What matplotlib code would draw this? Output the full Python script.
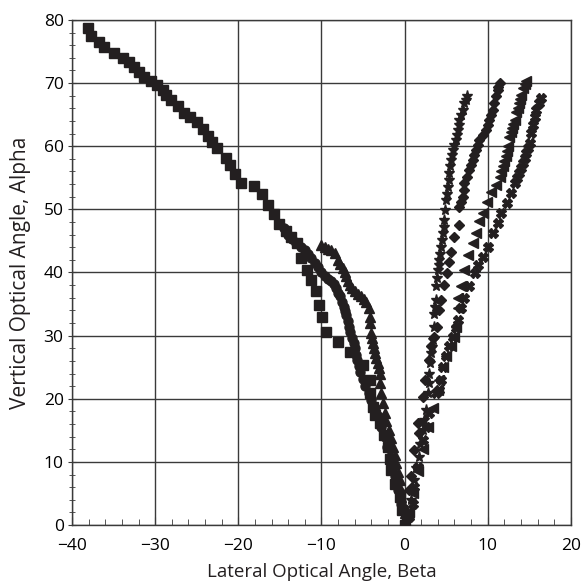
import numpy as np
import matplotlib.pyplot as plt
from matplotlib.ticker import MultipleLocator

plt.rcParams['font.family'] = ['Open Sans', 'DejaVu Sans']

# Squares
sq_x = [-38.1, -37.75, -36.7, -36.1, -34.9, -33.9, -33.1, -32.6, -32.0, -31.3, -30.5, -29.8,
        -29.1, -28.7, -28.1, -27.2, -26.5, -25.8, -25.0, -24.3, -23.6, -23.1, -22.6, -21.5,
        -21.0, -20.4, -19.7, -18.1, -17.2, -16.4, -15.7, -15.1, -14.3, -13.6, -12.9, -12.4,
        -11.7, -11.3, -10.7, -10.3, -9.9, -9.4, -8.0, -6.5, -5.0, -4.2, -4.2, -3.8, -3.5,
        -3.0, -2.5, -2.0, -1.8, -1.6, -1.2, -0.6, -0.3, 0.0]
sq_y = [78.7, 77.5, 76.5, 75.7, 74.7, 73.9, 73.3, 72.5, 71.8, 71.0, 70.3, 69.7,
        68.9, 68.1, 67.4, 66.3, 65.3, 64.6, 63.8, 62.7, 61.6, 60.7, 59.7, 58.2,
        57.1, 55.6, 54.2, 53.7, 52.5, 50.7, 49.2, 47.7, 46.6, 45.7, 44.6, 42.3,
        40.4, 38.8, 37.0, 34.8, 32.9, 30.6, 29.0, 27.4, 25.4, 23.0, 20.9, 18.7, 17.5,
        16.2, 14.3, 12.4, 10.5, 8.7, 6.5, 4.4, 2.4, 0.0]

# Circles
ci_x = [-14.5, -14.0, -13.5, -13.0, -12.5, -12.0, -11.6, -11.2, -10.8, -10.4, -10.0, -9.6,
        -9.2, -8.8, -8.5, -8.2, -8.0, -7.8, -7.5, -7.3, -7.1, -7.0, -6.8, -6.7, -6.5, -6.3,
        -6.1, -6.0, -5.8, -5.7, -5.5, -5.4, -5.0, -4.7, -4.3, -4.0, -3.6, -3.2, -2.8, -2.4,
        -2.1, -1.8, -1.5, -1.2, -1.0, -0.8, -0.6, -0.4, -0.1, 0.2]
ci_y = [47.0, 46.0, 45.3, 44.6, 44.1, 43.6, 43.0, 42.3, 41.5, 40.8, 40.1, 39.4,
        39.0, 38.6, 38.1, 37.5, 36.8, 36.2, 35.4, 34.6, 33.9, 33.3, 32.3, 31.4, 30.5, 29.6,
        28.8, 28.0, 27.0, 26.1, 25.2, 24.3, 23.1, 22.0, 20.9, 19.8, 18.5, 17.2, 15.6, 14.0,
        12.4, 10.8, 9.2, 7.7, 6.6, 5.5, 4.4, 3.4, 2.3, 1.3]

# Triangles (up)
tu_x = [-10.0, -9.6, -9.2, -8.8, -8.4, -8.0, -7.7, -7.4, -7.2, -7.0, -6.8, -6.6, -6.3,
        -6.0, -5.6, -5.2, -4.9, -4.6, -4.3, -4.2, -4.1, -4.0, -3.9, -3.8, -3.7, -3.6,
        -3.4, -3.2, -3.1, -3.0, -2.9, -2.8, -2.6, -2.4, -2.2, -1.9, -1.6, -1.4, -1.2,
        -1.0, -0.8, -0.6, -0.5, -0.4, -0.2, 0.0]
tu_y = [44.4, 44.1, 43.8, 43.5, 43.1, 42.0, 41.3, 40.7, 40.0, 39.4, 38.7, 38.0, 37.5,
        37.0, 36.6, 36.2, 35.8, 35.4, 34.3, 33.0, 32.0, 30.4, 29.6, 28.8, 28.0, 27.2,
        26.4, 25.6, 24.8, 24.0, 22.5, 20.9, 19.3, 17.7, 16.4, 15.1, 13.8, 12.4, 11.1,
        9.8, 8.4, 7.1, 5.8, 4.5, 3.2, 1.9]

# Stars
st_x = [7.56, 7.4, 7.2, 7.0, 6.8, 6.6, 6.5, 6.4, 6.3, 6.2, 6.0, 5.8, 5.7, 5.6, 5.5,
        5.4, 5.3, 5.2, 5.1, 5.0, 4.9, 4.8, 4.7, 4.6, 4.5, 4.4, 4.3, 4.2, 4.1, 4.0, 3.9,
        3.8, 3.8, 3.7, 3.6, 3.5, 3.4, 3.3, 3.2, 3.1, 3.0, 2.9, 2.8, 2.6, 2.4, 2.2, 1.9,
        1.7, 1.4, 1.2, 1.0, 0.8, 0.4]
st_y = [68.0, 67.4, 66.8, 65.8, 65.0, 64.2, 63.4, 62.6, 61.8, 61.0, 60.2, 59.4, 58.6,
        57.8, 56.8, 55.7, 54.6, 53.6, 52.5, 51.5, 49.9, 48.3, 47.2, 46.2, 45.1, 44.1,
        43.0, 42.0, 41.2, 40.4, 39.1, 37.8, 35.7, 34.6, 33.5, 31.4, 29.3, 28.2, 27.2,
        25.6, 24.0, 22.5, 20.9, 18.2, 16.6, 15.1, 12.9, 10.8, 9.0, 7.1, 5.5, 4.0, 1.9]

# Diamonds
di_x = [11.44, 11.3, 11.2, 11.0, 10.8, 10.6, 10.4, 10.2, 10.0, 9.8, 9.4, 9.0, 8.8,
        8.6, 8.4, 8.2, 8.0, 7.8, 7.5, 7.2, 7.1, 7.0, 6.8, 6.6, 6.6, 6.0, 5.6, 5.4, 5.1,
        4.8, 4.4, 4.2, 3.9, 3.6, 3.2, 3.0, 2.5, 2.2, 1.6, 1.8, 1.2, 0.8, 0.6, 0.6]
di_y = [70.0, 69.4, 68.9, 67.9, 66.8, 65.8, 65.0, 64.2, 63.4, 62.6, 61.8, 61.0, 60.2,
        59.4, 58.6, 57.8, 57.0, 56.3, 55.2, 54.2, 53.1, 52.0, 51.2, 50.4, 47.5, 45.7,
        43.2, 41.7, 39.9, 38.0, 35.7, 34.1, 31.4, 29.8, 28.3, 26.1, 23.0, 20.3, 16.1,
        14.5, 11.9, 7.7, 5.5, 1.3]

# Triangles (left)
tl_x = [14.65, 14.45, 14.25, 14.05, 13.9, 13.8, 13.6, 13.45, 13.25, 13.1, 12.97, 12.8,
        12.6, 12.4, 12.3, 12.2, 12.0, 11.8, 11.65, 11.5, 11.0, 10.4, 9.9, 9.4, 9.0, 8.6,
        8.2, 7.6, 7.2, 6.8, 6.4, 6.4, 6.2, 6.0, 5.6, 5.0, 4.6, 4.2, 4.0, 3.4, 2.8, 2.2,
        1.6, 1.0, 0.5]
tl_y = [70.3, 69.8, 69.2, 68.1, 67.5, 66.8, 66.1, 65.5, 64.2, 63.6, 62.9, 62.2, 61.5,
        60.0, 59.2, 58.4, 57.6, 56.8, 56.0, 55.2, 53.9, 52.8, 51.2, 49.4, 48.1, 46.2,
        44.6, 42.8, 40.4, 37.8, 35.9, 34.3, 31.4, 29.8, 28.3, 26.7, 25.1, 23.0, 21.4,
        18.5, 15.5, 12.0, 8.5, 5.0, 2.0]

# X marks
xm_x = [16.45, 16.2, 15.85, 15.65, 15.45, 15.25, 15.05, 14.85, 14.65, 14.45, 14.25,
        14.0, 13.8, 13.5, 13.25, 12.85, 12.3, 11.65, 11.2, 10.65, 10.0, 9.45, 8.85, 8.45,
        7.8, 7.2, 6.8, 6.4, 6.2, 5.8, 5.4, 5.0, 4.6, 4.4, 4.2, 3.8, 3.0, 2.6, 2.2, 1.6,
        1.2, 1.0, 0.6]
xm_y = [67.6, 66.8, 65.8, 64.7, 63.4, 62.1, 60.5, 59.7, 58.9, 58.1, 57.3, 56.5, 55.7,
        55.0, 54.2, 52.6, 51.0, 49.4, 47.8, 46.2, 44.1, 42.5, 41.2, 39.9, 37.8, 35.9,
        34.3, 32.5, 31.2, 29.8, 28.3, 26.7, 25.1, 23.0, 21.4, 20.9, 17.7, 15.6, 13.5,
        9.2, 6.1, 3.4, 1.3]

ink = '#231f20'

fig = plt.figure(figsize=(5.83, 5.84), dpi=100)
ax = fig.add_axes([0.1235, 0.101, 0.8555, 0.8648])

ax.plot(sq_x, sq_y, ls='none', marker='s', ms=6.5, color=ink, zorder=3)
ax.plot(ci_x, ci_y, ls='none', marker='o', ms=6.5, color=ink, zorder=3)
ax.plot(tu_x, tu_y, ls='none', marker='^', ms=6.5, color=ink, zorder=3)
ax.plot(st_x, st_y, ls='none', marker='*', ms=8, color=ink, zorder=3)
ax.plot(di_x, di_y, ls='none', marker='D', ms=5.5, color=ink, zorder=3)
ax.plot(tl_x, tl_y, ls='none', marker='<', ms=6.5, color=ink, zorder=3)
ax.plot(xm_x, xm_y, ls='none', marker='X', ms=7, color=ink, zorder=3)

ax.set_xlim(-40, 20)
ax.set_ylim(0, 80)
ax.xaxis.set_major_locator(MultipleLocator(10))
ax.yaxis.set_major_locator(MultipleLocator(10))
ax.xaxis.set_minor_locator(MultipleLocator(2))
ax.yaxis.set_minor_locator(MultipleLocator(2))
ax.grid(True, which='major', color='#3a3a3a', linewidth=1.0)
ax.set_axisbelow(True)

for s in ax.spines.values():
    s.set_color('#3a3a3a')
    s.set_linewidth(1.0)

ax.tick_params(axis='x', which='both', direction='in', labelsize=12.5, color='#3a3a3a', pad=9)
ax.tick_params(axis='y', which='both', direction='inout', labelsize=12.5, color='#3a3a3a', pad=3)
ax.tick_params(which='major', length=6)
ax.tick_params(which='minor', length=4)

ax.set_xlabel('Lateral Optical Angle, Beta', fontsize=13.5, color=ink, labelpad=7)
ax.set_ylabel('Vertical Optical Angle, Alpha', fontsize=15, color=ink, labelpad=9)

fig.savefig('out.png', dpi=100)
